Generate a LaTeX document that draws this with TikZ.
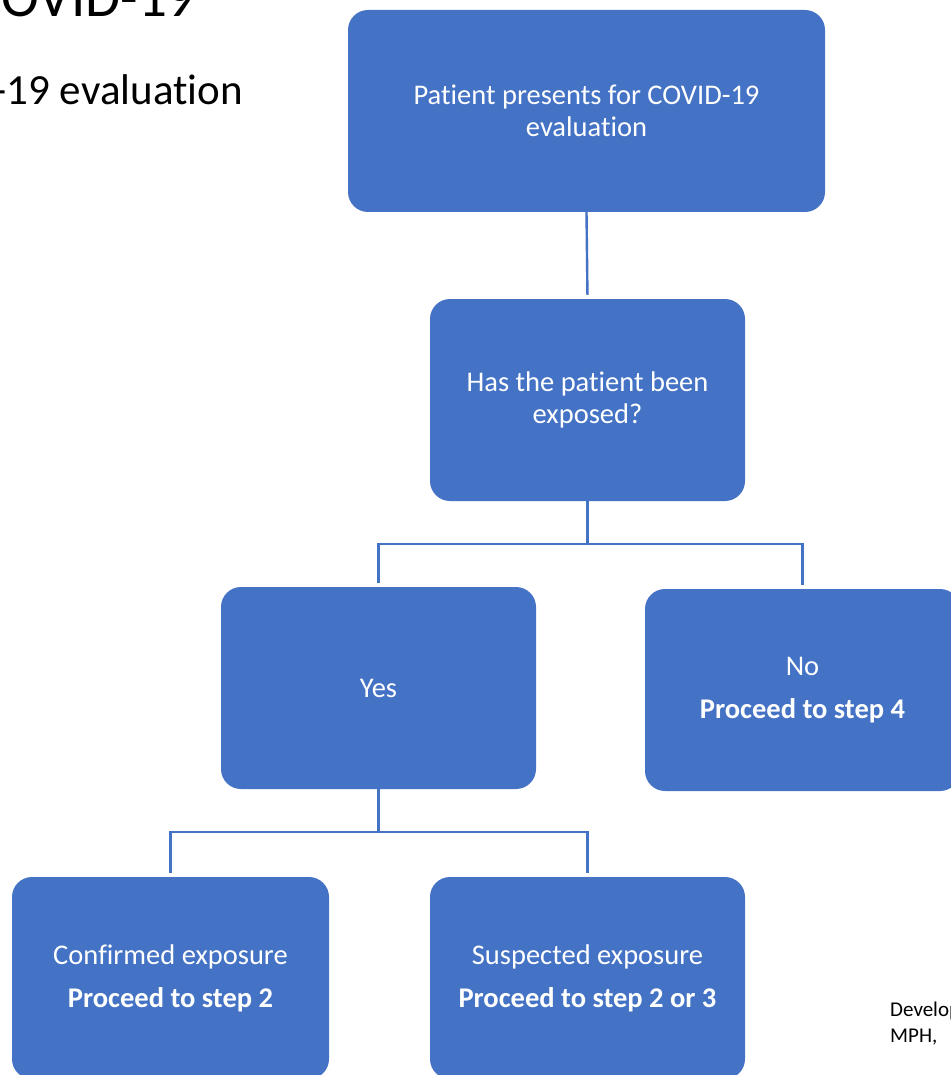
\documentclass[tikz,border=0pt]{standalone}
\usepackage{fontspec}
\setmainfont[Ligatures=NoCommon]{Carlito}
\usetikzlibrary{calc}
\definecolor{boxblue}{HTML}{4472C4}
\definecolor{lineblue}{HTML}{4472C4}
\begin{document}
\begin{tikzpicture}[x=1pt,y=-1pt,
  flowbox/.style={draw=none,fill=boxblue,rounded corners=20pt,text=white,align=center,
    minimum width=315pt,minimum height=202pt,inner sep=0pt,
    font=\fontsize{28.5}{32}\selectfont},
  link/.style={draw=lineblue,line width=2.4pt,shorten >=4pt}]
\useasboundingbox (0,0) rectangle (950,1075);
\fill[white] (0,0) rectangle (950,1075);
% title fragments
\node[anchor=base east,inner sep=0pt,font=\fontsize{57}{62}\selectfont] (title1) at (196,17) {COVID-19};
\node[anchor=base east,inner sep=0pt,font=\fontsize{43}{48}\selectfont] (title2) at (243,105) {COVID-19 evaluation};
% boxes
\node[flowbox,minimum width=477pt] (top) at (586.5,111) {Patient presents for COVID-19\\evaluation};
\node[flowbox] (mid) at (587.5,400) {Has the patient been\\exposed?};
\node[flowbox] (yes) at (378.5,688) {Yes};
\node[flowbox] (no) at (802.5,690) {No\\[11pt]\textbf{Proceed to step 4}};
\node[flowbox,minimum width=317pt] (conf) at (170.5,978) {Confirmed exposure\\[11pt]\textbf{Proceed to step 2}};
\node[flowbox] (susp) at (587.5,978) {Suspected exposure\\[11pt]\textbf{Proceed to step 2 or 3}};
% connectors
\draw[link] (top.south) -- (mid.north);
\coordinate (j1) at ($(mid.south)+(0,43)$);
\draw[link] (mid.south) -- (j1) -| (yes.north);
\draw[link] (j1) -| (no.north);
\coordinate (j2) at ($(yes.south)+(0,43)$);
\draw[link] (yes.south) -- (j2) -| (conf.north);
\draw[link] (j2) -| (susp.north);
% footer fragment
\node[anchor=base west,inner sep=0pt,align=left,font=\fontsize{21}{26}\selectfont] (dev) at (890,1042) {Developed\\MPH,};
\end{tikzpicture}
\end{document}
